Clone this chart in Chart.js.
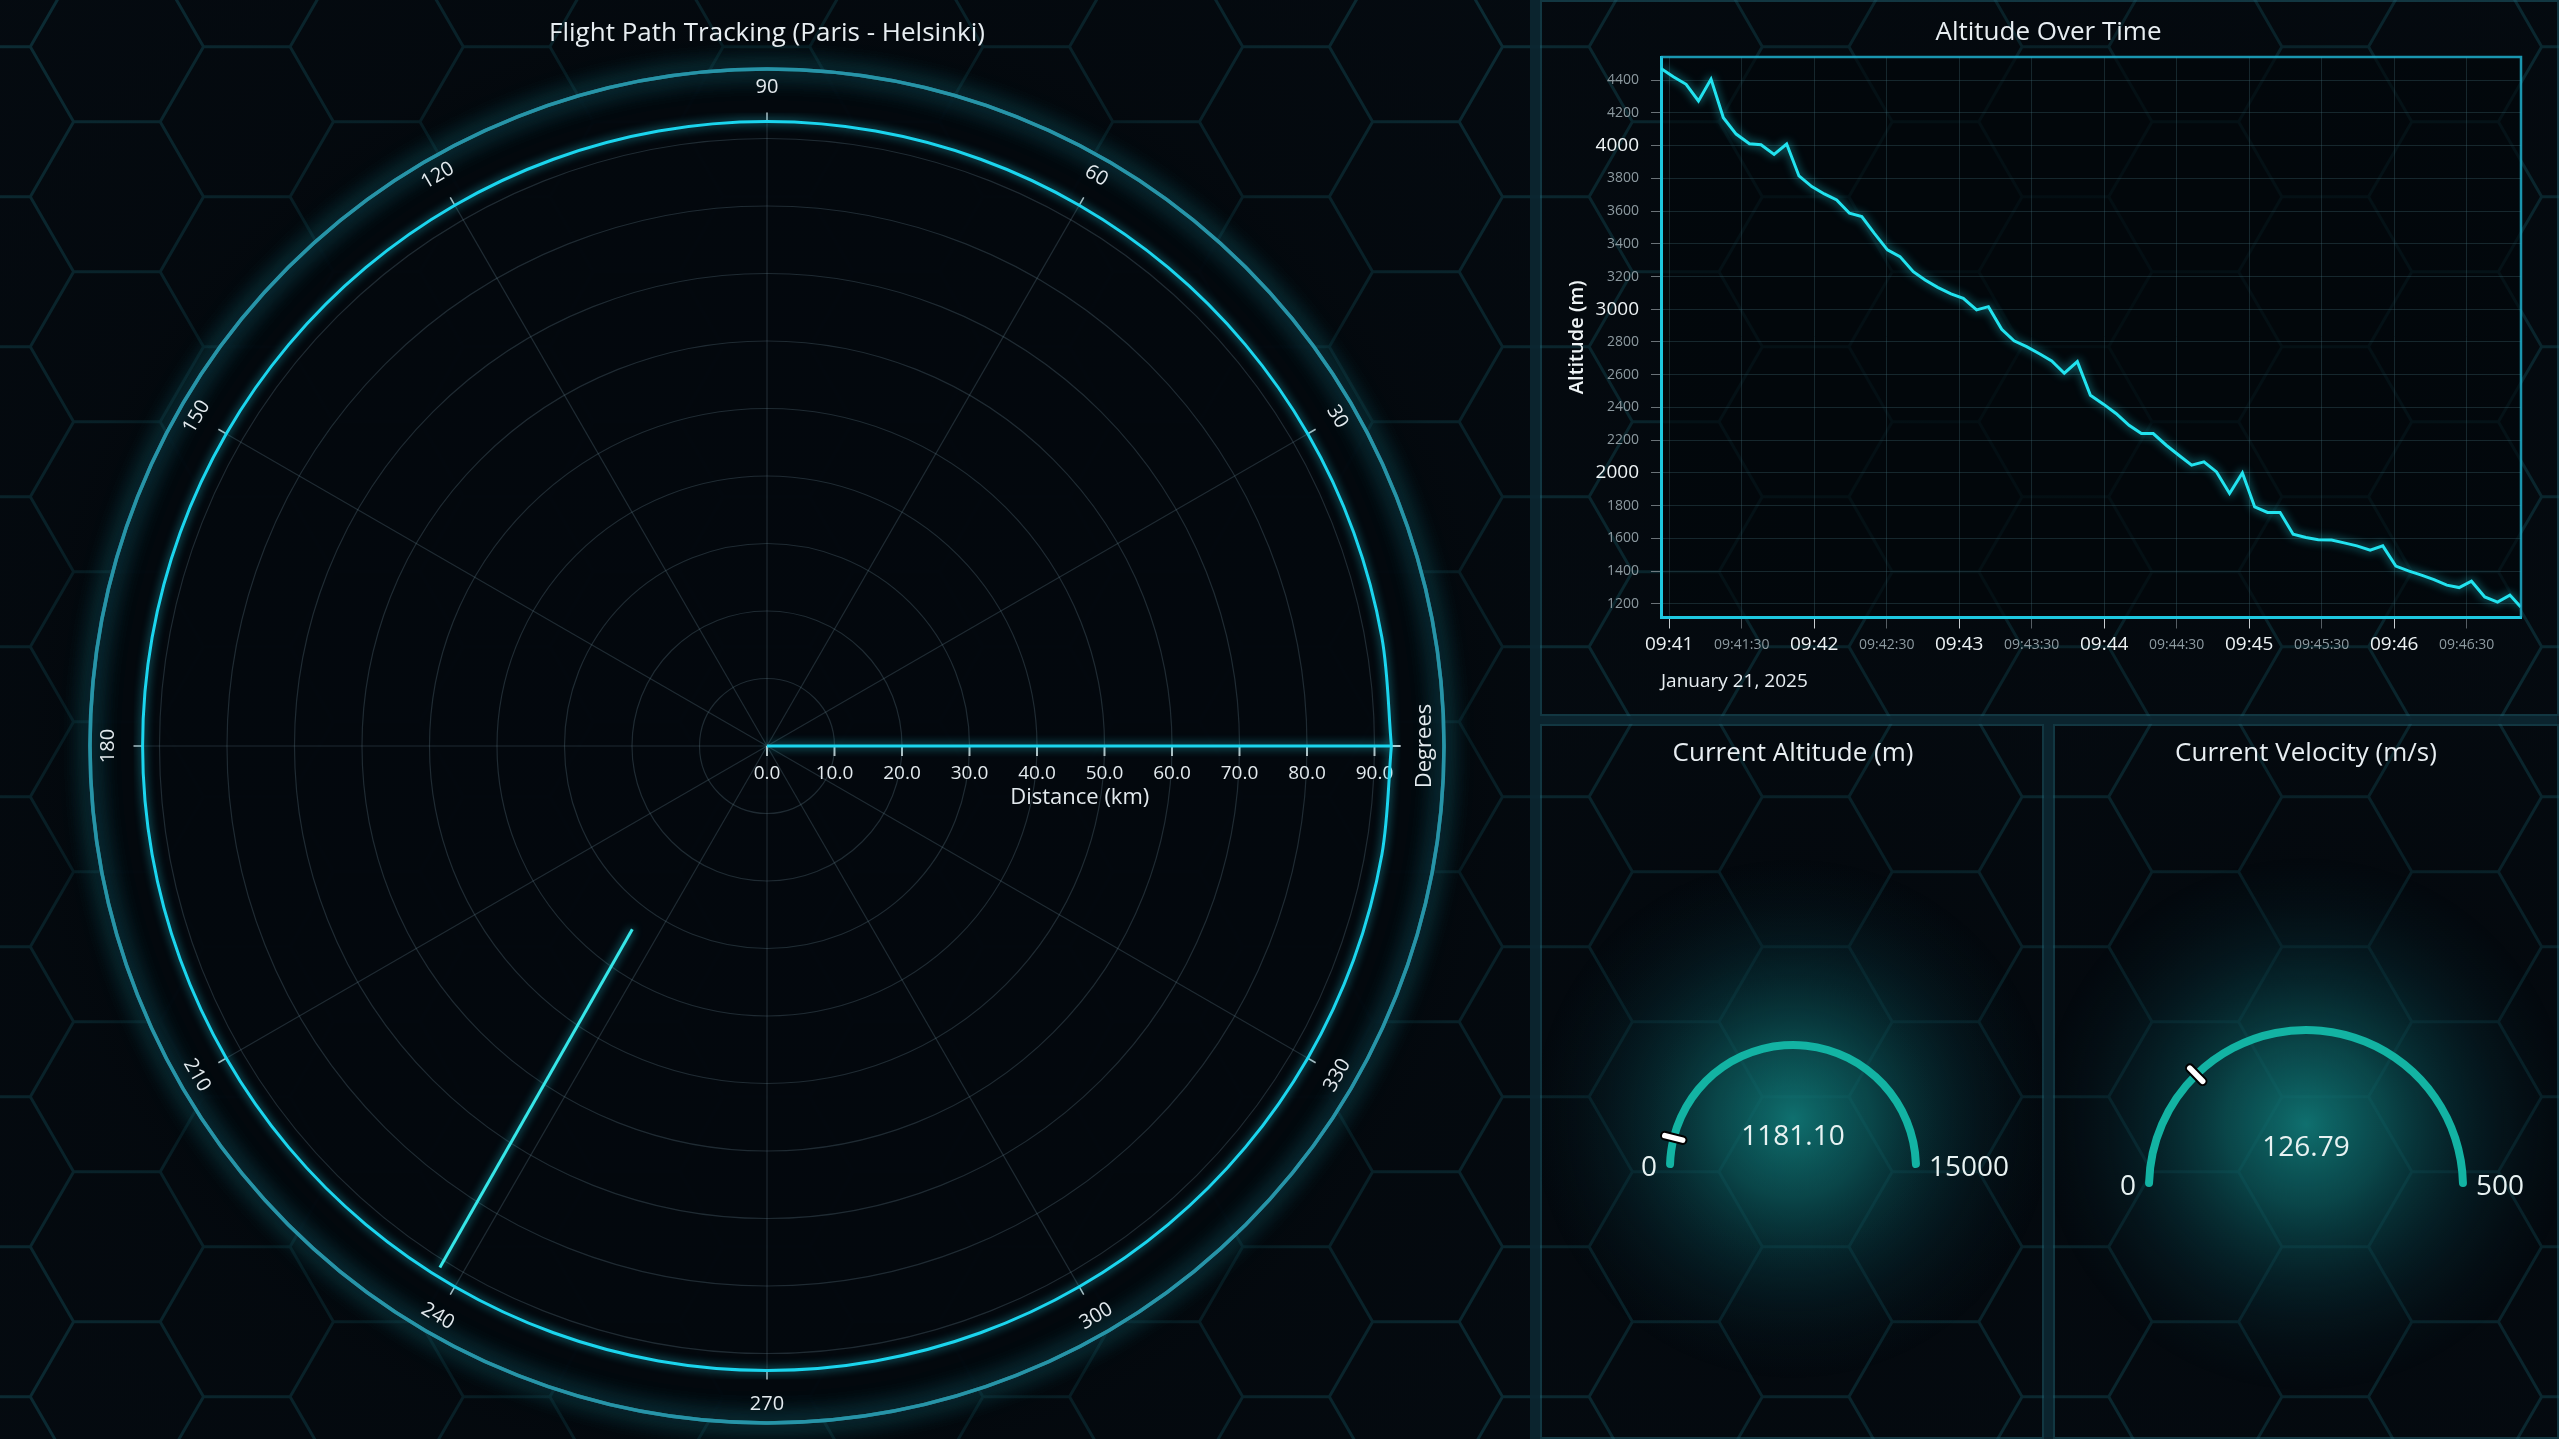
<!DOCTYPE html>
<html>
<head>
<meta charset="utf-8" />
<title>Flight Path Dashboard</title>
<style>
  html, body { margin: 0; padding: 0; background: #050b11; overflow: hidden; }
  #stage { position: relative; width: 2559px; height: 1439px; }
  #stage canvas { position: absolute; }
</style>
</head>
<body>
<div id="stage">
  <canvas id="bg" width="2559" height="1439" style="left:0px;top:0px"></canvas>
  <canvas id="polar_chart" width="1530" height="1439" style="left:0px;top:0px"></canvas>
  <canvas id="alt_chart" width="1019" height="716" style="left:1540px;top:0px"></canvas>
  <canvas id="alt_gauge" width="504" height="715" style="left:1540px;top:724px"></canvas>
  <canvas id="vel_gauge" width="506" height="715" style="left:2053px;top:724px"></canvas>
</div>

<script src="https://cdn.jsdelivr.net/npm/chart.js"></script>
<script>

// ---- data ----
// altitude track, seconds after 09:41:00
const flightSeconds = [-3.4, 1.7, 7.0, 12.1, 17.3, 22.4, 27.7, 33.2, 38.0, 43.4,
  48.6, 53.7, 59.0, 64.2, 69.3, 74.6, 79.7, 84.9, 90.3, 95.5,
  101.0, 105.9, 111.1, 116.6, 121.7, 127.2, 132.1, 137.6, 142.7, 147.9,
  153.4, 158.3, 163.5, 168.9, 174.3, 179.7, 184.9, 190.3, 195.4, 200.3,
  205.7, 210.9, 216.2, 221.3, 226.5, 231.9, 237.2, 242.3, 247.6, 252.8,
  258.2, 263.5, 268.6, 274.1, 279.3, 284.6, 290.1, 295.3, 300.7, 305.9,
  311.3, 316.5, 321.8, 326.9, 332.0, 337.5, 342.8, 347.9, 352.4];
const altitudeMeters = [4472, 4421, 4375, 4273, 4407, 4171, 4071, 4012, 4006, 3947,
  4010, 3815, 3750, 3705, 3668, 3587, 3566, 3464, 3363, 3322,
  3230, 3179, 3134, 3094, 3067, 2996, 3016, 2878, 2807, 2772,
  2727, 2684, 2609, 2680, 2474, 2420, 2363, 2291, 2240, 2240,
  2169, 2108, 2047, 2067, 2006, 1874, 2000, 1792, 1758, 1758,
  1625, 1605, 1591, 1589, 1572, 1554, 1527, 1554, 1430, 1401,
  1375, 1348, 1314, 1299, 1338, 1242, 1210, 1253, 1181];
const timeTicks = [0, 30, 60, 90, 120, 150, 180, 210, 240, 270, 300, 330];
const altitudeTicks = [1200, 1400, 1600, 1800, 2000, 2200, 2400, 2600, 2800, 3000,
  3200, 3400, 3600, 3800, 4000, 4200, 4400];
const flightDate = 'January 21, 2025';

// polar track: angle in degrees, distance in km
const legAngles = [0, 0];
const legDistances = [0, 92.5];
const ringAngles = [0, 10, 20, 30, 40, 50, 60, 70, 80, 90, 100, 110, 120,
  130, 140, 150, 160, 170, 180, 190, 200, 210, 220, 230, 240, 250,
  260, 270, 280, 290, 300, 310, 320, 330, 340, 350, 360];
const ringDistances = [92.5, 92.5, 92.5, 92.5, 92.5, 92.5, 92.5, 92.5, 92.5, 92.5,
  92.5, 92.5, 92.5, 92.5, 92.5, 92.5, 92.5, 92.5, 92.5, 92.5, 92.5, 92.5,
  92.5, 92.5, 92.5, 92.5, 92.5, 92.5, 92.5, 92.5, 92.5, 92.5, 92.5, 92.5,
  92.5, 92.5, 92.5];
const approachAngles = [233.7, 237.9];
const approachDistances = [33.7, 91.2];
const angleTicks = [0, 30, 60, 90, 120, 150, 180, 210, 240, 270, 300, 330];
const distanceTicks = [0, 10, 20, 30, 40, 50, 60, 70, 80, 90];
const radialMax = 93.85;

// gauges
const gaugeTitles = ['Current Altitude (m)', 'Current Velocity (m/s)'];
const gaugeValues = [1181.10, 126.79];
const gaugeMins = [0, 0];
const gaugeMaxes = [15000, 500];

// ---- look ----
const FONT = "'Open Sans', 'Noto Sans', sans-serif";
Chart.defaults.font.family = FONT;
Chart.defaults.color = '#e6edf0';

function font(size, weight) {
  return (weight || 'normal') + ' ' + size + 'px ' + FONT;
}

// background: hex grid, panel shading, separators
function drawBackdrop() {
  const c = document.getElementById('bg');
  const g = c.getContext('2d');
  g.fillStyle = '#050b11';
  g.fillRect(0, 0, c.width, c.height);

  const s = 86.6, hh = Math.sqrt(3) * s;
  g.strokeStyle = 'rgba(22,84,96,0.52)';
  g.lineWidth = 3;
  g.beginPath();
  for (let k = -1; k < 22; k++) {
    const hx = -13 + 1.5 * s * k;
    for (let j = -1; j < 12; j++) {
      const hy = 121.7 + hh * j - (Math.abs(k) % 2 ? hh / 2 : 0);
      for (let v = 0; v < 6; v++) {
        const a = v * Math.PI / 3;
        const px = hx + s * Math.cos(a), py = hy + s * Math.sin(a);
        if (v) g.lineTo(px, py); else g.moveTo(px, py);
      }
      g.closePath();
    }
  }
  g.stroke();

  function shade(x0, y0, w, h, cx, cy, r, stops) {
    g.save();
    g.beginPath();
    g.rect(x0, y0, w, h);
    g.clip();
    const gr = g.createRadialGradient(cx, cy, 0, cx, cy, r);
    stops.forEach(function (st) { gr.addColorStop(st[0], 'rgba(2,6,10,' + st[1] + ')'); });
    g.fillStyle = gr;
    g.fillRect(x0, y0, w, h);
    g.restore();
  }
  shade(0, 0, 1530, 1439, 767, 746, 1050, [[0, 0.9], [0.6, 0.82], [0.7, 0.4], [1, 0.12]]);
  shade(1540, 0, 1019, 716, 2048, 340, 700, [[0, 0.6], [1, 0.15]]);
  shade(1540, 724, 504, 715, 1792, 1060, 520, [[0, 0.65], [1, 0.12]]);
  shade(2053, 724, 506, 715, 2306, 1060, 520, [[0, 0.65], [1, 0.12]]);

  g.fillStyle = 'rgba(12,38,48,0.95)';
  g.fillRect(1530, 0, 10, 1439);
  g.fillRect(1540, 716, 1019, 8);
  g.fillRect(2044, 724, 9, 715);
  g.strokeStyle = 'rgba(32,100,115,0.5)';
  g.lineWidth = 2;
  g.strokeRect(1541, 1, 1017, 714);
  g.strokeRect(1541, 725, 502, 713);
  g.strokeRect(2054, 725, 504, 713);
}
drawBackdrop();

// soft glow for data lines
const glowLines = {
  id: 'glowLines',
  beforeDatasetDraw(chart) {
    const c = chart.ctx;
    c.save();
    c.shadowColor = 'rgba(40,225,240,0.75)';
    c.shadowBlur = 10;
  },
  afterDatasetDraw(chart) {
    chart.ctx.restore();
  }
};

// ---- polar chart ----
const polarCanvas = document.getElementById('polar_chart');
const POLAR_CX = 767, POLAR_CY = 746, POLAR_R = 633.5;

function toXY(angles, dists) {
  return angles.map(function (a, i) {
    const t = a * Math.PI / 180;
    return { x: dists[i] * Math.cos(t), y: dists[i] * Math.sin(t) };
  });
}

const polarGrid = {
  id: 'polarGrid',
  beforeDatasetsDraw(chart) {
    const ctx = chart.ctx;
    const xs = chart.scales.x, ys = chart.scales.y;
    const cx = xs.getPixelForValue(0), cy = ys.getPixelForValue(0);
    const k = xs.getPixelForValue(1) - cx;
    const rOut = radialMax * k;
    const at = function (deg, r) {
      const t = deg * Math.PI / 180;
      return [xs.getPixelForValue(r * Math.cos(t) / k), ys.getPixelForValue(r * Math.sin(t) / k)];
    };
    ctx.save();

    // dark disc and outer glowing ring
    ctx.fillStyle = 'rgba(3,8,14,0.85)';
    ctx.beginPath();
    ctx.arc(cx, cy, rOut + 43.5, 0, Math.PI * 2);
    ctx.fill();
    ctx.strokeStyle = 'rgba(40,150,170,0.85)';
    ctx.lineWidth = 3.5;
    ctx.shadowColor = 'rgba(40,190,210,0.8)';
    ctx.shadowBlur = 24;
    for (let i = 0; i < 2; i++) {
      ctx.beginPath();
      ctx.arc(cx, cy, rOut + 43.5, 0, Math.PI * 2);
      ctx.stroke();
    }
    ctx.shadowBlur = 0;

    // rings
    ctx.strokeStyle = 'rgba(95,125,135,0.3)';
    ctx.lineWidth = 1.2;
    distanceTicks.forEach(function (d) {
      if (!d) return;
      ctx.beginPath();
      ctx.arc(cx, cy, d * k, 0, Math.PI * 2);
      ctx.stroke();
    });
    // spokes
    angleTicks.forEach(function (a) {
      const p = at(a, rOut);
      ctx.beginPath();
      ctx.moveTo(cx, cy);
      ctx.lineTo(p[0], p[1]);
      ctx.stroke();
    });

    // angle ticks and labels
    ctx.strokeStyle = 'rgba(200,210,215,0.85)';
    ctx.lineWidth = 1.5;
    ctx.fillStyle = '#e3eaee';
    ctx.font = font(20);
    ctx.textAlign = 'center';
    ctx.textBaseline = 'middle';
    angleTicks.forEach(function (a) {
      const p1 = at(a, rOut - 10), p2 = at(a, rOut);
      ctx.beginPath();
      ctx.moveTo(p1[0], p1[1]);
      ctx.lineTo(p2[0], p2[1]);
      ctx.stroke();
      if (a === 0) return;
      const lp = at(a, rOut + 25);
      let rot = 90 - a;
      while (rot >= 90) rot -= 180;
      while (rot < -90) rot += 180;
      ctx.save();
      ctx.translate(lp[0], lp[1]);
      ctx.rotate(rot * Math.PI / 180);
      ctx.fillText(String(a), 0, 0);
      ctx.restore();
    });

    // distance axis along 0 degrees
    ctx.strokeStyle = 'rgba(210,218,222,0.85)';
    ctx.lineWidth = 2;
    ctx.beginPath();
    ctx.moveTo(cx, cy);
    ctx.lineTo(cx + rOut, cy);
    ctx.stroke();
    ctx.font = font(19);
    distanceTicks.forEach(function (d) {
      const px = xs.getPixelForValue(d);
      ctx.beginPath();
      ctx.moveTo(px, cy);
      ctx.lineTo(px, cy + 10);
      ctx.stroke();
      ctx.fillText(d.toFixed(1), px, cy + 28);
    });
    ctx.font = font(22);
    ctx.fillText('Distance (km)', cx + rOut / 2 - 4, cy + 52);
    ctx.save();
    ctx.translate(cx + rOut + 24, cy);
    ctx.rotate(-Math.PI / 2);
    ctx.fillText('Degrees', 0, 0);
    ctx.restore();

    ctx.restore();
  },
  afterDraw(chart) {
    const ctx = chart.ctx;
    ctx.save();
    ctx.fillStyle = '#e8eef2';
    ctx.font = font(26);
    ctx.textAlign = 'center';
    ctx.textBaseline = 'middle';
    ctx.fillText('Flight Path Tracking (Paris - Helsinki)', POLAR_CX, 34);
    ctx.restore();
  }
};

const polarChart = new Chart(polarCanvas, {
  type: 'scatter',
  data: {
    datasets: [{
      label: 'Outbound leg',
      data: toXY(legAngles, legDistances),
      showLine: true, borderColor: '#1bd5ee', borderWidth: 3, pointRadius: 0, tension: 0
    }, {
      label: 'Ring',
      data: toXY(ringAngles, ringDistances),
      showLine: true, borderColor: '#1bd5ee', borderWidth: 3, pointRadius: 0, tension: 0.335
    }, {
      label: 'Approach',
      data: toXY(approachAngles, approachDistances),
      showLine: true, borderColor: '#36e6e8', borderWidth: 3, pointRadius: 0, tension: 0
    }]
  },
  options: {
    responsive: false,
    animation: false,
    layout: {
      padding: {
        left: POLAR_CX - POLAR_R,
        right: polarCanvas.width - POLAR_CX - POLAR_R,
        top: POLAR_CY - POLAR_R,
        bottom: polarCanvas.height - POLAR_CY - POLAR_R
      }
    },
    scales: {
      x: { type: 'linear', min: -radialMax, max: radialMax, display: false },
      y: { type: 'linear', min: -radialMax, max: radialMax, display: false }
    },
    plugins: { legend: { display: false }, tooltip: { enabled: false } }
  },
  plugins: [polarGrid, glowLines]
});

// ---- altitude over time ----
function pad2(n) { return (n < 10 ? '0' : '') + n; }
function clockLabel(sec) {
  const total = 9 * 3600 + 41 * 60 + sec;
  const h = Math.floor(total / 3600), m = Math.floor(total / 60) % 60, s = total % 60;
  return pad2(h) + ':' + pad2(m) + (s ? ':' + pad2(s) : '');
}

const plotFrame = {
  id: 'plotFrame',
  beforeDraw(chart) {
    const a = chart.chartArea, ctx = chart.ctx;
    ctx.save();
    ctx.fillStyle = 'rgba(2,6,10,0.6)';
    ctx.fillRect(a.left, a.top, a.right - a.left, a.bottom - a.top);
    ctx.restore();
  },
  afterDraw(chart) {
    const a = chart.chartArea, ctx = chart.ctx;
    ctx.save();
    ctx.strokeStyle = 'rgba(30,175,205,0.85)';
    ctx.lineWidth = 2.5;
    ctx.beginPath();
    ctx.moveTo(a.left, a.top);
    ctx.lineTo(a.right, a.top);
    ctx.lineTo(a.right, a.bottom);
    ctx.stroke();
    // chart title, centred on the panel
    ctx.fillStyle = '#e8eef2';
    ctx.font = font(26);
    ctx.textAlign = 'center';
    ctx.textBaseline = 'middle';
    ctx.fillText('Altitude Over Time', chart.width / 2 - 1, 33);
    ctx.restore();
  }
};

const altChart = new Chart(document.getElementById('alt_chart'), {
  type: 'line',
  data: {
    datasets: [{
      label: 'Altitude',
      data: flightSeconds.map(function (t, i) { return { x: t, y: altitudeMeters[i] }; }),
      borderColor: '#22e3ef',
      borderWidth: 3,
      pointRadius: 0,
      tension: 0
    }]
  },
  options: {
    responsive: false,
    animation: false,
    layout: { padding: { left: 0, right: 38, top: 57, bottom: 0 } },
    plugins: {
      legend: { display: false },
      tooltip: { enabled: false },
      title: { display: false }
    },
    scales: {
      x: {
        type: 'linear',
        bounds: 'data',
        min: -3.4,
        max: 352.5,
        afterBuildTicks(scale) { scale.ticks = timeTicks.map(function (v) { return { value: v }; }); },
        afterFit(scale) { scale.height = 98.5; },
        ticks: {
          autoSkip: false,
          maxRotation: 0,
          minRotation: 0,
          padding: 5,
          callback: function (v) { return clockLabel(v); },
          font: function (c) {
            return c.tick && c.tick.value % 60 === 0 ? { size: 19, lineHeight: 1.2 } : { size: 14, lineHeight: '22.8px' };
          },
          color: function (c) { return c.tick && c.tick.value % 60 === 0 ? '#eef3f5' : '#8d9aa0'; }
        },
        grid: {
          color: 'rgba(60,100,112,0.35)',
          tickLength: 11,
          tickColor: function (c) { return c.tick && c.tick.value % 60 === 0 ? 'rgba(220,226,230,0.9)' : 'rgba(140,150,156,0.6)'; }
        },
        border: { color: '#1ec8e0', width: 3 },
        title: {
          display: true,
          text: flightDate,
          align: 'start',
          color: '#e8eef2',
          font: { size: 19 },
          padding: { top: 0, bottom: 23.1 }
        }
      },
      y: {
        type: 'linear',
        bounds: 'data',
        min: 1116,
        max: 4542,
        afterBuildTicks(scale) { scale.ticks = altitudeTicks.map(function (v) { return { value: v }; }); },
        afterFit(scale) { scale.width = 121; },
        ticks: {
          padding: 12,
          callback: function (v) { return String(v); },
          font: function (c) { return c.tick && c.tick.value % 1000 === 0 ? { size: 19 } : { size: 14 }; },
          color: function (c) { return c.tick && c.tick.value % 1000 === 0 ? '#eef3f5' : '#8d9aa0'; }
        },
        grid: {
          color: 'rgba(60,100,112,0.35)',
          tickLength: 10,
          tickColor: 'rgba(150,160,165,0.7)'
        },
        border: { color: '#1ec8e0', width: 3 },
        title: {
          display: true,
          text: 'Altitude (m)',
          color: '#eef3f5',
          font: { size: 20, weight: '600' },
          padding: { top: 25, bottom: 0 }
        }
      }
    }
  },
  plugins: [plotFrame, glowLines]
});

// ---- gauges ----
const gaugeGeom = [
  { cx: 1793, cy: 1168, r: 123 },
  { cx: 2306, cy: 1187, r: 157 }
];
const BAND = 8;

function gaugeDecor(idx) {
  return {
    id: 'gaugeDecor' + idx,
    beforeDraw(chart) {
      const ctx = chart.ctx;
      const arc = chart.getDatasetMeta(0).data[0];
      const r = (arc.innerRadius + arc.outerRadius) / 2;
      const gx = arc.x, gy = arc.y - 0.4 * r;
      const gr = ctx.createRadialGradient(gx, gy, 0, gx, gy, 235 + 0.2 * r);
      gr.addColorStop(0, 'rgba(18,130,128,0.85)');
      gr.addColorStop(0.3, 'rgba(14,108,110,0.62)');
      gr.addColorStop(0.65, 'rgba(9,66,76,0.3)');
      gr.addColorStop(1, 'rgba(5,30,40,0)');
      ctx.save();
      ctx.fillStyle = gr;
      ctx.fillRect(0, 0, chart.width, chart.height);
      ctx.fillStyle = '#e8eef2';
      ctx.font = font(26);
      ctx.textAlign = 'center';
      ctx.textBaseline = 'middle';
      ctx.fillText(gaugeTitles[idx], arc.x, 30);
      ctx.restore();
    },
    afterDatasetsDraw(chart) {
      const ctx = chart.ctx;
      const arc = chart.getDatasetMeta(0).data[0];
      const r = (arc.innerRadius + arc.outerRadius) / 2;
      const ang = arc.endAngle;
      ctx.save();
      // needle marker at the value position
      ctx.translate(arc.x + r * Math.cos(ang), arc.y + r * Math.sin(ang));
      ctx.rotate(ang);
      ctx.beginPath();
      ctx.roundRect(-13, -3.8, 26, 7.6, 3.8);
      ctx.fillStyle = '#ffffff';
      ctx.fill();
      ctx.lineWidth = 2;
      ctx.strokeStyle = '#000000';
      ctx.stroke();
      ctx.restore();

      ctx.save();
      ctx.fillStyle = '#e8f2f2';
      ctx.font = font(28);
      ctx.textBaseline = 'middle';
      ctx.textAlign = 'center';
      ctx.fillText(gaugeValues[idx].toFixed(2), arc.x, arc.y - 0.25 * r);
      ctx.textAlign = 'right';
      ctx.fillText(String(gaugeMins[idx]), arc.x - arc.outerRadius - 9, arc.y);
      ctx.textAlign = 'left';
      ctx.fillText(String(gaugeMaxes[idx]), arc.x + arc.outerRadius + 9, arc.y);
      ctx.restore();
    }
  };
}

function makeGauge(canvasId, idx) {
  const canvas = document.getElementById(canvasId);
  const ox = parseFloat(canvas.style.left), oy = parseFloat(canvas.style.top);
  const gm = gaugeGeom[idx];
  const rOut = gm.r + BAND / 2;
  const cx = gm.cx - ox, cy = gm.cy - oy;
  return new Chart(canvas, {
    type: 'doughnut',
    data: {
      labels: ['value', 'rest'],
      datasets: [{
        data: [gaugeValues[idx] - gaugeMins[idx], gaugeMaxes[idx] - gaugeValues[idx]],
        backgroundColor: ['#13b3a3', '#13b3a3'],
        borderWidth: 0,
        borderRadius: function (c) {
          return c.dataIndex === 0
            ? { outerStart: BAND / 2, innerStart: BAND / 2, outerEnd: 0, innerEnd: 0 }
            : { outerStart: 0, innerStart: 0, outerEnd: BAND / 2, innerEnd: BAND / 2 };
        }
      }]
    },
    options: {
      responsive: false,
      animation: false,
      rotation: -90,
      circumference: 180,
      cutout: ((rOut - BAND) / rOut * 100) + '%',
      layout: {
        padding: {
          left: cx - rOut,
          right: canvas.width - cx - rOut,
          top: cy - rOut,
          bottom: canvas.height - cy
        }
      },
      plugins: { legend: { display: false }, tooltip: { enabled: false } }
    },
    plugins: [gaugeDecor(idx)]
  });
}

const altGauge = makeGauge('alt_gauge', 0);
const velGauge = makeGauge('vel_gauge', 1);

</script>
</body>
</html>
